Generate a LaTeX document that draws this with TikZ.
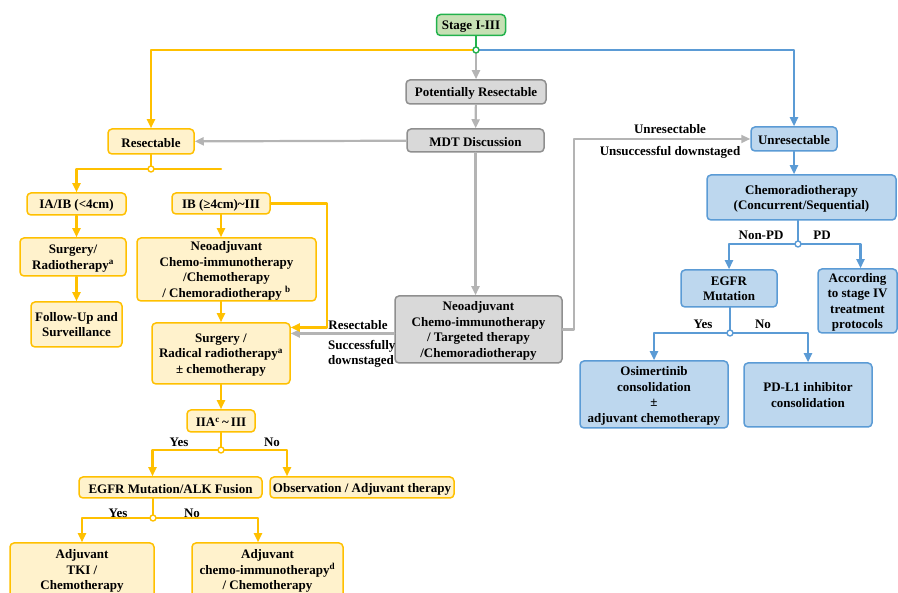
\documentclass[tikz,border=0pt]{standalone}
\usepackage{fontspec}
\setmainfont{Liberation Serif}
\usetikzlibrary{arrows.meta}
\definecolor{ydraw}{HTML}{FFC000}
\definecolor{yfill}{HTML}{FFF2CC}
\definecolor{bdraw}{HTML}{5B9BD5}
\definecolor{bfill}{HTML}{BDD7EE}
\definecolor{gdraw}{HTML}{8F8F8F}
\definecolor{gfill}{HTML}{D9D9D9}
\definecolor{gconn}{HTML}{B4B4B4}
\definecolor{sdraw}{HTML}{22B24C}
\definecolor{sfill}{HTML}{C6E0B4}
\newcommand{\boxfont}{\fontsize{13}{15.5}\selectfont\bfseries}
\begin{document}
\begin{tikzpicture}[x=1pt,y=-1pt, line join=round, line cap=round, font=\boxfont,
  >={Triangle[length=9pt,width=8pt]},
  box/.style={rounded corners=4pt, line width=1.5pt, align=center, inner sep=0pt,
    execute at begin node={\rule{0pt}{12pt}}},
  multi/.style={text depth=-4pt},
  ybox/.style={box, draw=ydraw, fill=yfill},
  bbox/.style={box, draw=bdraw, fill=bfill},
  gbox/.style={box, draw=gdraw, fill=gfill},
  sbox/.style={box, draw=sdraw, fill=sfill},
  yline/.style={draw=ydraw, line width=2.2pt},
  bline/.style={draw=bdraw, line width=2.2pt},
  gline/.style={draw=gconn, line width=2.2pt},
  sline/.style={draw=sdraw, line width=2.2pt},
  joint/.style={circle, fill=white, inner sep=0pt, minimum size=6pt, line width=1.4pt},
  lbl/.style={inner sep=0pt}]
\useasboundingbox (0,0) rectangle (898,593);
\clip (0,0) rectangle (898,593);

% top and middle column
\node[sbox, minimum width=69, minimum height=21] (stage) at (471,25) {Stage I-III};
\node[gbox, minimum width=140, minimum height=24] (pot) at (476,92) {Potentially Resectable};
\node[gbox, minimum width=137, minimum height=23] (mdt) at (475.5,140.5) {MDT Discussion};
\node[gbox, multi, minimum width=167, minimum height=67] (neog) at (478.5,329.5)
  {Neoadjuvant\\Chemo-immunotherapy\\/ Targeted therapy\\/Chemoradiotherapy};

% resectable branch
\node[ybox, minimum width=86, minimum height=25] (res) at (151,141.5) {Resectable};
\node[ybox, minimum width=99, minimum height=22] (iaib) at (76.5,204) {IA/IB (<4cm)};
\node[ybox, multi, minimum width=106, minimum height=38] (surg1) at (73,257) {Surgery/\\Radiotherapy\textsuperscript{a}};
\node[ybox, multi, minimum width=91, minimum height=45] (follow) at (76.5,324.5) {Follow-Up and\\Surveillance};
\node[ybox, minimum width=98, minimum height=21] (ibiii) at (221,203.5) {IB (≥4cm)\textasciitilde III};
\node[ybox, multi, minimum width=179, minimum height=63] (neoy) at (226.5,269.5)
  {Neoadjuvant\\Chemo-immunotherapy\\/Chemotherapy\\/ Chemoradiotherapy \textsuperscript{b}};
\node[ybox, multi, minimum width=138, minimum height=61] (surg2) at (221,353.5)
  {Surgery /\\Radical radiotherapy\textsuperscript{a}\\± chemotherapy};
\node[ybox, minimum width=68, minimum height=22] (iia) at (221,421) {IIA\textsuperscript{c}\,\textasciitilde\,III};
\node[ybox, minimum width=183, minimum height=21] (egalk) at (170.5,487.5) {EGFR Mutation/ALK Fusion};
\node[ybox, minimum width=184, minimum height=21] (obs) at (362,487.5) {Observation / Adjuvant therapy};
\node[ybox, minimum width=144, minimum height=56] (adjtki) at (82,571) {Adjuvant\\TKI /\\Chemotherapy};
\node[ybox, minimum width=151, minimum height=56] (adjchemo) at (267.5,571)
  {Adjuvant\\chemo-immunotherapy\textsuperscript{d}\\/ Chemotherapy};

% unresectable branch
\node[bbox, minimum width=86, minimum height=24] (unres) at (794,139) {Unresectable};
\node[bbox, multi, minimum width=189, minimum height=45] (crt) at (801.5,197.5) {Chemoradiotherapy\\(Concurrent/Sequential)};
\node[bbox, multi, minimum width=96, minimum height=37] (egfr) at (729,288.5) {EGFR\\Mutation};
\node[bbox, multi, minimum width=79, minimum height=64] (accord) at (857.5,301) {According\\to stage IV\\treatment\\protocols};
\node[bbox, multi, minimum width=148, minimum height=67] (osim) at (654,394.5)
  {Osimertinib\\consolidation\\±\\adjuvant chemotherapy};
\node[bbox, multi, minimum width=128, minimum height=64] (pdl1) at (808,395) {PD-L1 inhibitor\\consolidation};

% junctions
\coordinate (j0) at (476,50);
\coordinate (j1) at (151,169);
\coordinate (j2) at (221,450);
\coordinate (j3) at (153,518);
\coordinate (j4) at (798,244);
\coordinate (j5) at (730,333);

% grey connectors
\draw[gline,->] (j0) -- (pot.north);
\draw[gline,->] (pot) -- (mdt);
\draw[gline,->] (mdt) -- (res);
\draw[gline,->] (mdt.south) -- (mdt.south |- neog.north);
\draw[gline,->] (neog.east) -- ++(11,0) |- (unres.west);
\draw[gline,->] ([yshift=-4pt]neog.west) -- ([yshift=-4pt]neog.west -| surg2.east);
\node[lbl] (l1) at (670,129) {Unresectable};
\node[lbl] (l2) at (670,152) {Unsuccessful downstaged};
\node[lbl] (l3) at (358,325) {Resectable};
\node[lbl, align=left, anchor=north west] (l4) at (328,340) {Successfully\\downstaged};

% yellow connectors
\draw[sline] (stage.south -| j0) -- (j0);
\draw[yline,->] (j0) -| (res.north);
\draw[yline] (res.south) -- (j1);
\draw[yline,->] (j1) -| (iaib.north);
\draw[yline] (j1) -- (ibiii.north |- j1);
\draw[yline,->] (iaib.south) -- (iaib.south |- surg1.north);
\draw[yline,->] (surg1.south -| iaib.south) -- (iaib.south |- follow.north);
\draw[yline,->] (ibiii.south) -- (ibiii.south |- neoy.north);
\draw[yline,->] (neoy.south -| ibiii.south) -- (ibiii.south |- surg2.north);
\draw[yline,->] (ibiii.east) -- ++(56,0) |- ([yshift=26pt]surg2.east);
\draw[yline,->] (surg2) -- (iia);
\draw[yline] (iia.south) -- (j2);
\draw[yline,->] (j2) -| ([xshift=-18pt]egalk.north);
\draw[yline,->] (j2) -| ([xshift=-75pt]obs.north);
\draw[yline] (egalk.south -| j3) -- (j3);
\draw[yline,->] (j3) -| (adjtki.north);
\draw[yline,->] (j3) -| ([xshift=-9.5pt]adjchemo.north);
\node[lbl] (y1) at (179,442) {Yes};
\node[lbl] (n1) at (272,442) {No};
\node[lbl] (y2) at (118,513) {Yes};
\node[lbl] (n2) at (192,513) {No};

% blue connectors
\draw[bline,->] (j0) -| (unres.north);
\draw[bline,->] (unres) -- (unres |- crt.north);
\draw[bline] (crt.south -| j4) -- (j4);
\draw[bline,->] (j4) -| (egfr.north);
\draw[bline,->] (j4) -| ([xshift=3pt]accord.north);
\draw[bline] (egfr.south -| j5) -- (j5);
\draw[bline,->] (j5) -| (osim.north);
\draw[bline,->] (j5) -| (pdl1.north);
\node[lbl] (np) at (761,235) {Non-PD};
\node[lbl] (pd) at (822,235) {PD};
\node[lbl] (y3) at (703,324) {Yes};
\node[lbl] (n3) at (763,324) {No};

% junction marks
\node[joint, draw=sdraw] (o0) at (j0) {};
\node[joint, draw=ydraw] (o1) at (j1) {};
\node[joint, draw=ydraw] (o2) at (j2) {};
\node[joint, draw=ydraw] (o3) at (j3) {};
\node[joint, draw=bdraw] (o4) at (j4) {};
\node[joint, draw=bdraw] (o5) at (j5) {};
\end{tikzpicture}
\end{document}
